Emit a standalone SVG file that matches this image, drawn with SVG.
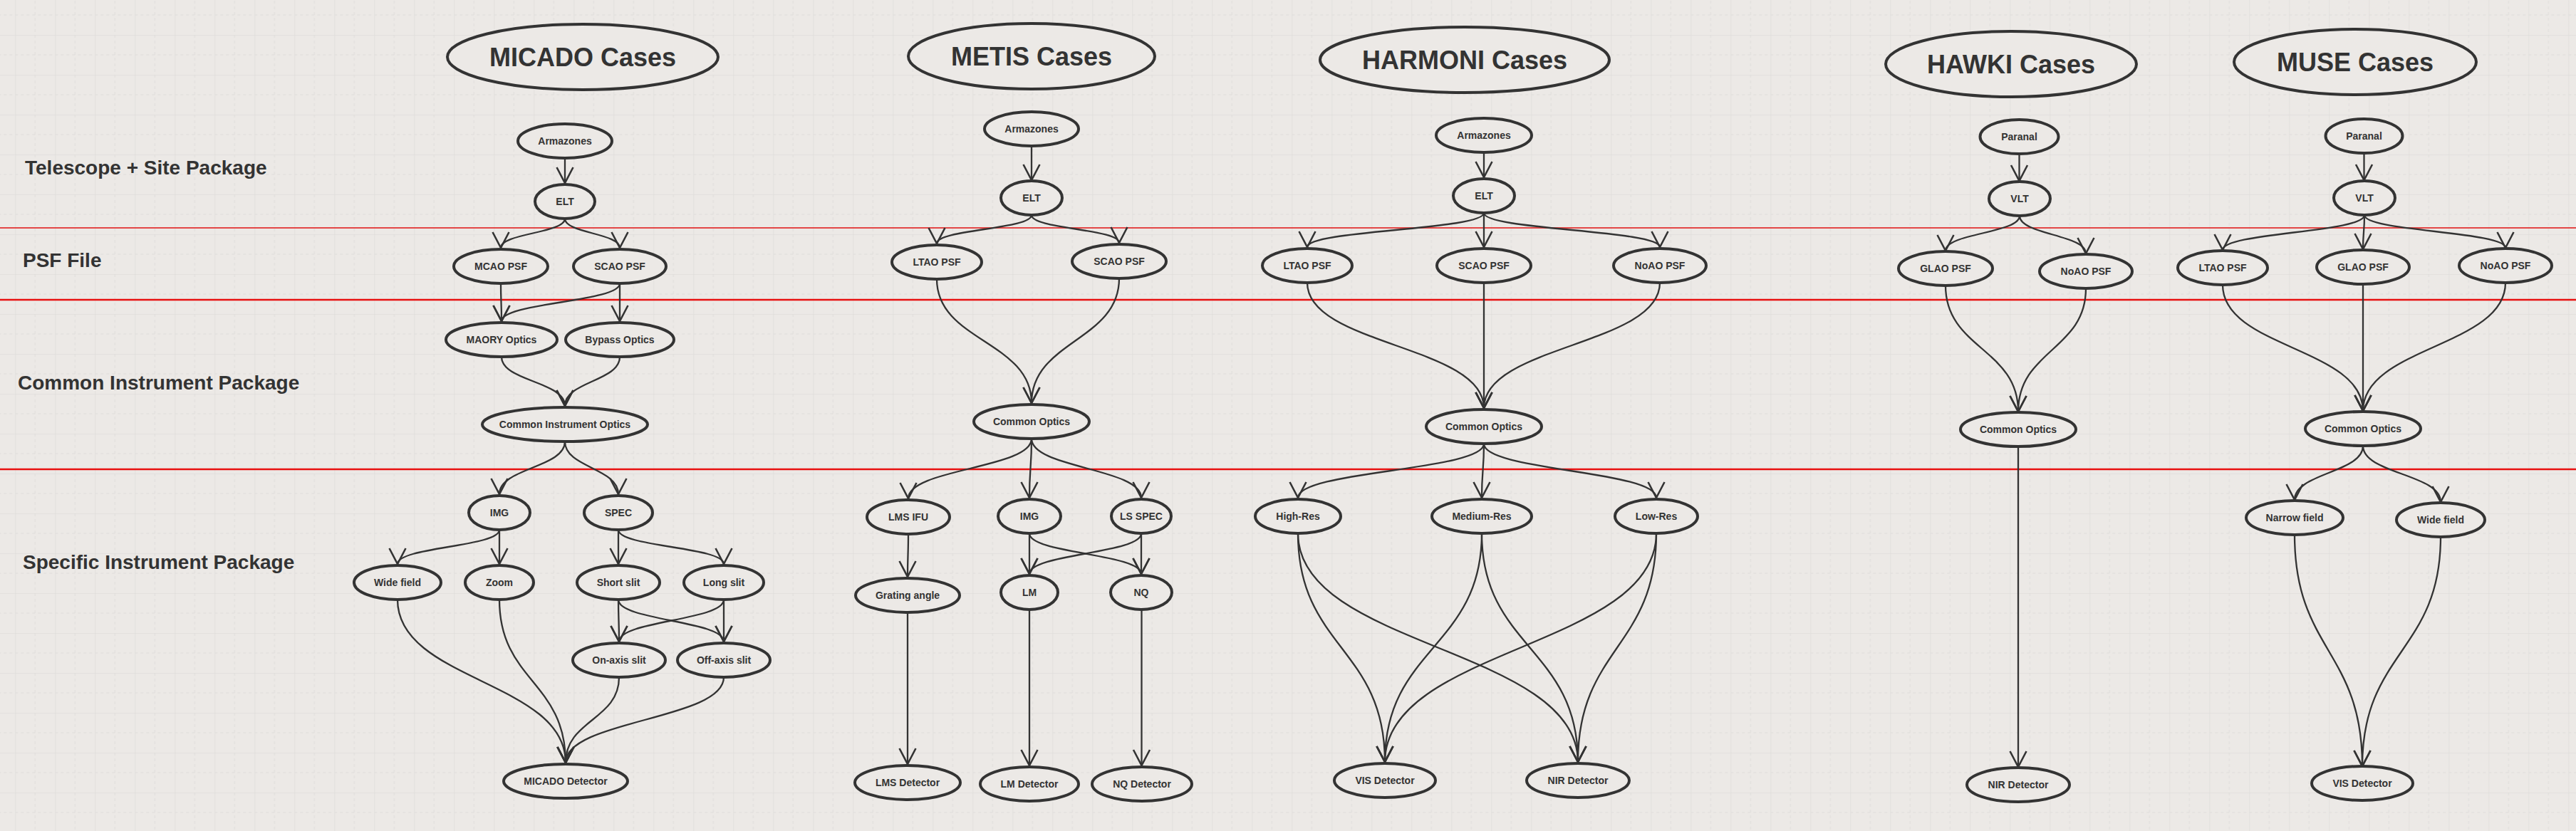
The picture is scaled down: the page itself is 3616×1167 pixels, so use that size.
<svg xmlns="http://www.w3.org/2000/svg" width="3616" height="1167" viewBox="0 0 3616 1167">
<style>
.bg{fill:#ECE9E6}
.n ellipse{fill:#ECE9E6;stroke:#333;stroke-width:4}
.n text{font-family:"Liberation Sans",Arial,sans-serif;font-weight:bold;font-size:14px;fill:#333;text-anchor:middle}
.n text.t{font-size:36px}
.sec{font-family:"Liberation Sans",Arial,sans-serif;font-weight:bold;font-size:28px;fill:#333}
.e path{fill:none;stroke:#333;stroke-width:2.3;marker-end:url(#arr)}
.red1{stroke:#E01010;stroke-width:1.3}
.red2{stroke:#E81010;stroke-width:2.5}
</style>
<defs>
<pattern id="grid" x="21.3" y="49" width="56" height="56" patternUnits="userSpaceOnUse">
<path d="M0,0 V56 M0,0 H56" stroke="#D9D7D5" stroke-width="1" fill="none"/>
<path d="M28,0 V56 M0,28 H56" stroke="#DEDCDA" stroke-width="1" stroke-dasharray="4 4" fill="none"/>
</pattern>
<marker id="arr" viewBox="-26 -15 30 30" refX="0" refY="0" markerWidth="30" markerHeight="30" markerUnits="userSpaceOnUse" orient="auto">
<path d="M-22,-11.5 L0,0 L-22,11.5" fill="none" stroke="#333" stroke-width="2.6"/>
</marker>
</defs>
<rect class="bg" x="0" y="0" width="3616" height="1167"/>
<rect x="0" y="0" width="3616" height="1167" fill="url(#grid)"/>

<g id="separators">
<line class="red1" x1="0" y1="320" x2="3616" y2="320"/>
<line class="red2" x1="0" y1="421" x2="3616" y2="421"/>
<line class="red2" x1="0" y1="659" x2="3616" y2="659"/>
</g>

<g id="section-labels">
<text class="sec" x="35" y="245">Telescope + Site Package</text>
<text class="sec" x="32" y="375">PSF File</text>
<text class="sec" x="25" y="547">Common Instrument Package</text>
<text class="sec" x="32" y="799">Specific Instrument Package</text>
</g>

<g id="connectors" class="e">
<!-- MICADO -->
<path d="M793,222 L793,257"/>
<path d="M793,307 C793,327.5 703,327.5 703,348"/>
<path d="M793,307 C793,327.5 870,327.5 870,348"/>
<path d="M703,398 C703,424.5 704,424.5 704,451"/>
<path d="M870,398 C870,424.5 704,424.5 704,451"/>
<path d="M870,398 L870,451"/>
<path d="M704,501 C704,535.5 793,535.5 793,570"/>
<path d="M870,501 C870,535.5 793,535.5 793,570"/>
<path d="M793,620 C793,657 701,657 701,694"/>
<path d="M793,620 C793,657 868,657 868,694"/>
<path d="M701,744 C701,768 558,768 558,792"/>
<path d="M701,744 L701,792"/>
<path d="M868,744 L868,792"/>
<path d="M868,744 C868,768 1016,768 1016,792"/>
<path d="M868,842 C868,871.5 869,871.5 869,901"/>
<path d="M868,842 C868,871.5 1016,871.5 1016,901"/>
<path d="M1016,842 C1016,871.5 869,871.5 869,901"/>
<path d="M1016,842 L1016,901"/>
<path d="M558,842 C558,956.5 794,956.5 794,1071"/>
<path d="M701,842 C701,956.5 794,956.5 794,1071"/>
<path d="M869,951 C869,1011 794,1011 794,1071"/>
<path d="M1016,951 C1016,1011 794,1011 794,1071"/>
<!-- METIS -->
<path d="M1448,205 L1448,253"/>
<path d="M1448,302 C1448,322 1315,322 1315,342"/>
<path d="M1448,302 C1448,321.5 1571,321.5 1571,341"/>
<path d="M1315,392 C1315,479 1448,479 1448,566"/>
<path d="M1571,391 C1571,478.5 1448,478.5 1448,566"/>
<path d="M1448,616 C1448,658 1275,658 1275,700"/>
<path d="M1448,616 C1448,657.5 1445,657.5 1445,699"/>
<path d="M1448,616 C1448,657.5 1602,657.5 1602,699"/>
<path d="M1275,750 C1275,780 1274,780 1274,810"/>
<path d="M1445,749 L1445,806"/>
<path d="M1445,749 C1445,777.5 1602,777.5 1602,806"/>
<path d="M1602,749 C1602,777.5 1445,777.5 1445,806"/>
<path d="M1602,749 L1602,806"/>
<path d="M1274,860 L1274,1073"/>
<path d="M1445,856 L1445,1075"/>
<path d="M1602.5,856 L1602.5,1075"/>
<!-- HARMONI -->
<path d="M2083,214 L2083,249"/>
<path d="M2083,299 C2083,323 1835,323 1835,347"/>
<path d="M2083,299 L2083,347"/>
<path d="M2083,299 C2083,323 2330,323 2330,347"/>
<path d="M1835,397 C1835,485 2083,485 2083,573"/>
<path d="M2083,397 L2083,573"/>
<path d="M2330,397 C2330,485 2083,485 2083,573"/>
<path d="M2083,623 C2083,661 1822,661 1822,699"/>
<path d="M2083,623 C2083,661 2080,661 2080,699"/>
<path d="M2083,623 C2083,661 2325,661 2325,699"/>
<path d="M1822,749 C1822,909.5 1944,909.5 1944,1070"/>
<path d="M1822,749 C1822,909.5 2215,909.5 2215,1070"/>
<path d="M2080,749 C2080,909.5 1944,909.5 1944,1070"/>
<path d="M2080,749 C2080,909.5 2215,909.5 2215,1070"/>
<path d="M2325,749 C2325,909.5 1944,909.5 1944,1070"/>
<path d="M2325,749 C2325,909.5 2215,909.5 2215,1070"/>
<!-- HAWKI -->
<path d="M2834.5,216 L2834.5,254"/>
<path d="M2835,303 C2835,327.5 2731,327.5 2731,352"/>
<path d="M2835,303 C2835,329.5 2928,329.5 2928,356"/>
<path d="M2731,401 C2731,489.5 2833,489.5 2833,578"/>
<path d="M2928,405 C2928,491.5 2833,491.5 2833,578"/>
<path d="M2833,627 L2833,1077"/>
<!-- MUSE -->
<path d="M3318.5,215 L3318.5,253"/>
<path d="M3319,302 C3319,326.5 3120,326.5 3120,351"/>
<path d="M3319,302 C3319,326 3317,326 3317,350"/>
<path d="M3319,302 C3319,325 3517,325 3517,348"/>
<path d="M3120,400 C3120,488.5 3317,488.5 3317,577"/>
<path d="M3317,399 L3317,577"/>
<path d="M3517,397 C3517,487 3317,487 3317,577"/>
<path d="M3317,626 C3317,664 3221,664 3221,702"/>
<path d="M3317,626 C3317,665.5 3426,665.5 3426,705"/>
<path d="M3221,751 C3221,913.5 3316,913.5 3316,1076"/>
<path d="M3426,754 C3426,915 3316,915 3316,1076"/>
</g>

<!-- MICADO nodes -->
<g id="micado-title" class="n"><ellipse cx="818" cy="80" rx="190" ry="46"/><text class="t" x="818" y="93">MICADO Cases</text></g>
<g id="micado-armazones" class="n"><ellipse cx="793" cy="198" rx="66" ry="24"/><text x="793" y="203">Armazones</text></g>
<g id="micado-elt" class="n"><ellipse cx="793" cy="283" rx="42" ry="24"/><text x="793" y="288">ELT</text></g>
<g id="micado-mcao-psf" class="n"><ellipse cx="703" cy="374" rx="66" ry="24"/><text x="703" y="379">MCAO PSF</text></g>
<g id="micado-scao-psf" class="n"><ellipse cx="870" cy="374" rx="65" ry="24"/><text x="870" y="379">SCAO PSF</text></g>
<g id="micado-maory" class="n"><ellipse cx="704" cy="477" rx="78" ry="24"/><text x="704" y="482">MAORY Optics</text></g>
<g id="micado-bypass" class="n"><ellipse cx="870" cy="477" rx="76" ry="24"/><text x="870" y="482">Bypass Optics</text></g>
<g id="micado-cio" class="n"><ellipse cx="793" cy="596" rx="116" ry="24"/><text x="793" y="601">Common Instrument Optics</text></g>
<g id="micado-img" class="n"><ellipse cx="701" cy="720" rx="43" ry="24"/><text x="701" y="725">IMG</text></g>
<g id="micado-spec" class="n"><ellipse cx="868" cy="720" rx="48" ry="24"/><text x="868" y="725">SPEC</text></g>
<g id="micado-wide" class="n"><ellipse cx="558" cy="818" rx="61" ry="24"/><text x="558" y="823">Wide field</text></g>
<g id="micado-zoom" class="n"><ellipse cx="701" cy="818" rx="48" ry="24"/><text x="701" y="823">Zoom</text></g>
<g id="micado-short" class="n"><ellipse cx="868" cy="818" rx="58" ry="24"/><text x="868" y="823">Short slit</text></g>
<g id="micado-long" class="n"><ellipse cx="1016" cy="818" rx="56" ry="24"/><text x="1016" y="823">Long slit</text></g>
<g id="micado-onaxis" class="n"><ellipse cx="869" cy="927" rx="65" ry="24"/><text x="869" y="932">On-axis slit</text></g>
<g id="micado-offaxis" class="n"><ellipse cx="1016" cy="927" rx="65" ry="24"/><text x="1016" y="932">Off-axis slit</text></g>
<g id="micado-detector" class="n"><ellipse cx="794" cy="1097" rx="87" ry="24"/><text x="794" y="1102">MICADO Detector</text></g>

<!-- METIS nodes -->
<g id="metis-title" class="n"><ellipse cx="1448" cy="79" rx="173" ry="46"/><text class="t" x="1448" y="92">METIS Cases</text></g>
<g id="metis-armazones" class="n"><ellipse cx="1448" cy="181" rx="66" ry="24"/><text x="1448" y="186">Armazones</text></g>
<g id="metis-elt" class="n"><ellipse cx="1448" cy="278" rx="43" ry="24"/><text x="1448" y="283">ELT</text></g>
<g id="metis-ltao-psf" class="n"><ellipse cx="1315" cy="368" rx="63" ry="24"/><text x="1315" y="373">LTAO PSF</text></g>
<g id="metis-scao-psf" class="n"><ellipse cx="1571" cy="367" rx="66" ry="24"/><text x="1571" y="372">SCAO PSF</text></g>
<g id="metis-common" class="n"><ellipse cx="1448" cy="592" rx="81" ry="24"/><text x="1448" y="597">Common Optics</text></g>
<g id="metis-lms-ifu" class="n"><ellipse cx="1275" cy="726" rx="58" ry="24"/><text x="1275" y="731">LMS IFU</text></g>
<g id="metis-img" class="n"><ellipse cx="1445" cy="725" rx="44" ry="24"/><text x="1445" y="730">IMG</text></g>
<g id="metis-ls-spec" class="n"><ellipse cx="1602" cy="725" rx="42" ry="24"/><text x="1602" y="730">LS SPEC</text></g>
<g id="metis-grating" class="n"><ellipse cx="1274" cy="836" rx="73" ry="24"/><text x="1274" y="841">Grating angle</text></g>
<g id="metis-lm" class="n"><ellipse cx="1445" cy="832" rx="40" ry="24"/><text x="1445" y="837">LM</text></g>
<g id="metis-nq" class="n"><ellipse cx="1602" cy="832" rx="43" ry="24"/><text x="1602" y="837">NQ</text></g>
<g id="metis-lms-det" class="n"><ellipse cx="1274" cy="1099" rx="74" ry="24"/><text x="1274" y="1104">LMS Detector</text></g>
<g id="metis-lm-det" class="n"><ellipse cx="1445" cy="1101" rx="69" ry="24"/><text x="1445" y="1106">LM Detector</text></g>
<g id="metis-nq-det" class="n"><ellipse cx="1603" cy="1101" rx="70" ry="24"/><text x="1603" y="1106">NQ Detector</text></g>

<!-- HARMONI nodes -->
<g id="harmoni-title" class="n"><ellipse cx="2056" cy="84" rx="203" ry="46"/><text class="t" x="2056" y="97">HARMONI Cases</text></g>
<g id="harmoni-armazones" class="n"><ellipse cx="2083" cy="190" rx="67" ry="24"/><text x="2083" y="195">Armazones</text></g>
<g id="harmoni-elt" class="n"><ellipse cx="2083" cy="275" rx="43" ry="24"/><text x="2083" y="280">ELT</text></g>
<g id="harmoni-ltao-psf" class="n"><ellipse cx="1835" cy="373" rx="63" ry="24"/><text x="1835" y="378">LTAO PSF</text></g>
<g id="harmoni-scao-psf" class="n"><ellipse cx="2083" cy="373" rx="66" ry="24"/><text x="2083" y="378">SCAO PSF</text></g>
<g id="harmoni-noao-psf" class="n"><ellipse cx="2330" cy="373" rx="65" ry="24"/><text x="2330" y="378">NoAO PSF</text></g>
<g id="harmoni-common" class="n"><ellipse cx="2083" cy="599" rx="81" ry="24"/><text x="2083" y="604">Common Optics</text></g>
<g id="harmoni-high" class="n"><ellipse cx="1822" cy="725" rx="60" ry="24"/><text x="1822" y="730">High-Res</text></g>
<g id="harmoni-medium" class="n"><ellipse cx="2080" cy="725" rx="70" ry="24"/><text x="2080" y="730">Medium-Res</text></g>
<g id="harmoni-low" class="n"><ellipse cx="2325" cy="725" rx="58" ry="24"/><text x="2325" y="730">Low-Res</text></g>
<g id="harmoni-vis-det" class="n"><ellipse cx="1944" cy="1096" rx="71" ry="24"/><text x="1944" y="1101">VIS Detector</text></g>
<g id="harmoni-nir-det" class="n"><ellipse cx="2215" cy="1096" rx="72" ry="24"/><text x="2215" y="1101">NIR Detector</text></g>

<!-- HAWKI nodes -->
<g id="hawki-title" class="n"><ellipse cx="2823" cy="90" rx="176" ry="46"/><text class="t" x="2823" y="103">HAWKI Cases</text></g>
<g id="hawki-paranal" class="n"><ellipse cx="2834.5" cy="192" rx="55" ry="24"/><text x="2834.5" y="197">Paranal</text></g>
<g id="hawki-vlt" class="n"><ellipse cx="2835" cy="279" rx="43" ry="24"/><text x="2835" y="284">VLT</text></g>
<g id="hawki-glao-psf" class="n"><ellipse cx="2731" cy="377" rx="66" ry="24"/><text x="2731" y="382">GLAO PSF</text></g>
<g id="hawki-noao-psf" class="n"><ellipse cx="2928" cy="381" rx="65" ry="24"/><text x="2928" y="386">NoAO PSF</text></g>
<g id="hawki-common" class="n"><ellipse cx="2833" cy="603" rx="81" ry="24"/><text x="2833" y="608">Common Optics</text></g>
<g id="hawki-nir-det" class="n"><ellipse cx="2833" cy="1102" rx="72" ry="24"/><text x="2833" y="1107">NIR Detector</text></g>

<!-- MUSE nodes -->
<g id="muse-title" class="n"><ellipse cx="3306" cy="87" rx="170" ry="46"/><text class="t" x="3306" y="100">MUSE Cases</text></g>
<g id="muse-paranal" class="n"><ellipse cx="3318.5" cy="191" rx="54" ry="24"/><text x="3318.5" y="196">Paranal</text></g>
<g id="muse-vlt" class="n"><ellipse cx="3319" cy="278" rx="43" ry="24"/><text x="3319" y="283">VLT</text></g>
<g id="muse-ltao-psf" class="n"><ellipse cx="3120" cy="376" rx="63" ry="24"/><text x="3120" y="381">LTAO PSF</text></g>
<g id="muse-glao-psf" class="n"><ellipse cx="3317" cy="375" rx="65" ry="24"/><text x="3317" y="380">GLAO PSF</text></g>
<g id="muse-noao-psf" class="n"><ellipse cx="3517" cy="373" rx="65" ry="24"/><text x="3517" y="378">NoAO PSF</text></g>
<g id="muse-common" class="n"><ellipse cx="3317" cy="602" rx="81" ry="24"/><text x="3317" y="607">Common Optics</text></g>
<g id="muse-narrow" class="n"><ellipse cx="3221" cy="727" rx="68" ry="24"/><text x="3221" y="732">Narrow field</text></g>
<g id="muse-wide" class="n"><ellipse cx="3426" cy="730" rx="62" ry="24"/><text x="3426" y="735">Wide field</text></g>
<g id="muse-vis-det" class="n"><ellipse cx="3316" cy="1100" rx="71" ry="24"/><text x="3316" y="1105">VIS Detector</text></g>
</svg>
